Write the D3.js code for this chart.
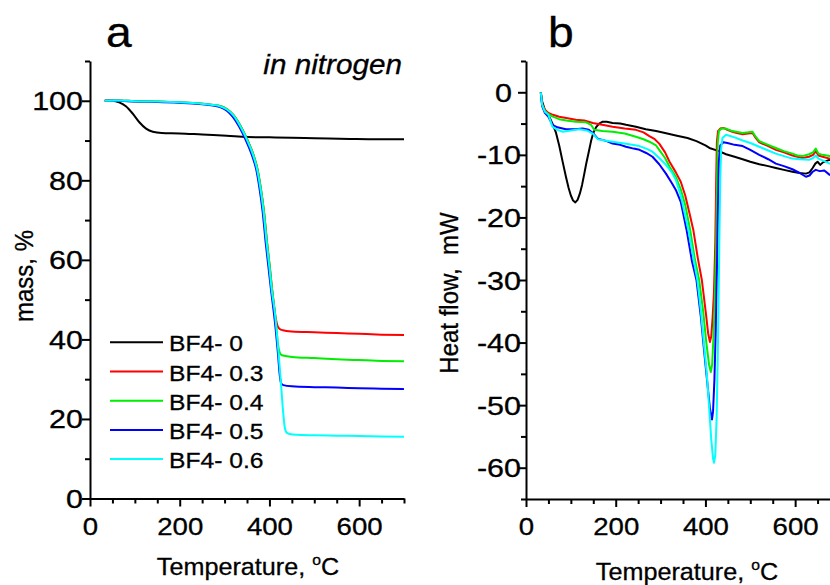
<!DOCTYPE html>
<html><head><meta charset="utf-8">
<script src="https://cdn.jsdelivr.net/npm/d3@7"></script>
<style>
body{margin:0;background:#fff}
svg{display:block}
text{font-family:"Liberation Sans",Arial,sans-serif;fill:#000;stroke:#000;stroke-width:0.3px}
</style>
</head><body>
<svg id="c" width="830" height="585"></svg>
<script>
// ---------------- DATA ----------------
const seriesNames = ["BF4- 0","BF4- 0.3","BF4- 0.4","BF4- 0.5","BF4- 0.6"];
const seriesColors = ["#000000","#ff0000","#00ee00","#0000ff","#00ffff"];

const xTicksMajor = [0,200,400,600];
const xTicksMinor = [50,100,150,250,300,350,450,500,550,650,700];
const massTicksMajor = [0,20,40,60,80,100];
const massTicksMinor = [10,30,50,70,90,110];
const heatTicksMajor = [0,-10,-20,-30,-40,-50,-60];
const heatTicksMinor = [5,-5,-15,-25,-35,-45,-55,-65];

// TGA: [temperature °C, mass %]
const tgaStartRG = [[33,100],[60,100.1],[100,99.9],[150,99.8],[200,99.6],[245,99.3],[270,99.0],[290,98.7],[305,97.9],[320,96.4],[335,93.8],[350,90.4],[365,86.2],[373,83.0],[380,78.6],[388,72.0],[395,64.0],[401,58.0],[406,52.5]];
const tgaStartB  = [[33,100],[60,100.0],[100,99.8],[150,99.7],[200,99.5],[245,99.2],[270,98.9],[290,98.4],[305,97.5],[318,96.0],[332,93.6],[347,90.2],[362,86.0],[370,83.0],[377,78.6],[385,72.0],[392,64.0],[398,58.0],[404,52.0]];
const tgaStartC  = [[33,100],[60,100.1],[100,99.9],[150,99.8],[200,99.6],[245,99.3],[270,99.0],[290,98.6],[305,97.8],[319,96.4],[334,93.8],[349,90.4],[364,86.2],[372,83.0],[379,78.6],[387,72.0],[394,64.0],[400,58.0],[405,52.5]];
const tgaBF0 = [[33,100],[50,100],[65,99.6],[80,98.6],[95,96.8],[110,94.6],[125,93.0],[140,92.2],[160,91.9],[200,91.8],[250,91.5],[305,91.2],[350,90.9],[400,90.8],[450,90.7],[500,90.6],[580,90.4],[640,90.3],[700,90.3]];
const tgaBF03 = [[410,48.8],[414,45.4],[418,43.4],[423,42.6],[430,42.3],[450,42.0],[500,41.8],[550,41.6],[600,41.4],[650,41.2],[700,41.1]];
const tgaBF04 = [[410,48.8],[415,43.8],[419,38.8],[423,36.7],[428,36.0],[450,35.6],[500,35.3],[550,35.0],[600,34.8],[650,34.6],[700,34.5]];
const tgaBF05 = [[409,47.5],[414,42.5],[419,36.5],[423,31.0],[426,29.0],[431,28.5],[450,28.2],[500,28.0],[550,27.9],[600,27.7],[650,27.6],[700,27.5]];
const tgaBF06 = [[412,46.7],[420,37.0],[425,30.0],[430,22.5],[434,18.0],[438,16.6],[445,16.2],[460,16.0],[500,15.9],[550,15.8],[600,15.7],[650,15.6],[700,15.5]];

// DSC: [temperature °C, heat flow mW]
const dscBF0 = [[33,0],[36,-1.5],[42,-2.8],[50,-3.6],[59,-5.0],[67,-6.5],[74,-8.5],[82,-11.2],[89,-13.5],[95,-15.3],[100,-16.5],[105,-17.3],[110,-17.6],[115,-17.2],[120,-16.2],[125,-14.8],[130,-13.0],[134,-11.5],[140,-9.5],[145,-7.8],[150,-6.5],[156,-5.6],[163,-5.0],[171,-4.7],[180,-4.7],[193,-4.9],[210,-5.0],[223,-5.2],[245,-5.5],[267,-5.9],[290,-6.2],[310,-6.5],[334,-6.9],[360,-7.3],[380,-7.8],[400,-8.5],[409,-8.9],[430,-9.4],[446,-9.9],[465,-10.3],[483,-10.7],[500,-11.1],[520,-11.5],[540,-11.8],[557,-12.1],[575,-12.4],[594,-12.7],[610,-12.9],[624,-13.0],[632,-12.8],[639,-12.1],[645,-11.4],[650,-11.1],[656,-11.6],[662,-11.2],[676,-10.8],[690,-11.0],[700,-10.9]];
const dscBF03 = [[33,0],[36,-1.8],[42,-2.8],[50,-3.3],[60,-3.6],[74,-3.9],[90,-4.1],[111,-4.4],[130,-4.5],[149,-4.9],[170,-5.2],[193,-5.5],[220,-5.8],[245,-6.0],[262,-6.4],[275,-7.0],[287,-7.5],[297,-8.2],[310,-9.6],[320,-11.1],[334,-12.8],[345,-14.3],[355,-16.5],[365,-19.5],[373,-22.0],[383,-26.5],[392,-30.0],[401,-35.3],[406,-38.5],[410,-39.9],[413,-39.0],[416,-36.0],[419,-32.0],[422,-24.0],[424,-14.0],[425.5,-8.0],[428,-6.2],[433,-5.8],[440,-5.7],[446,-5.9],[460,-6.3],[470,-6.5],[483,-6.7],[495,-6.6],[505,-6.5],[512,-7.3],[520,-8.0],[540,-8.6],[557,-9.2],[575,-9.6],[594,-10.1],[605,-10.3],[616,-10.5],[631,-10.3],[640,-10.0],[646,-9.4],[652,-10.1],[661,-10.3],[677,-10.6],[700,-10.8]];
const dscBF04 = [[33,0],[36,-2.0],[42,-3.0],[50,-3.5],[60,-3.9],[74,-4.3],[90,-4.5],[111,-4.7],[134,-4.8],[145,-5.2],[152,-6.0],[170,-6.2],[193,-6.3],[220,-6.6],[245,-7.1],[262,-7.5],[275,-7.9],[290,-8.5],[297,-9.2],[310,-10.5],[320,-11.9],[334,-13.5],[345,-15.5],[355,-18.0],[366,-22.0],[376,-26.5],[386,-30.0],[395,-35.0],[402,-40.0],[408,-43.5],[412,-44.7],[415,-43.5],[418,-39.0],[421,-33.0],[424,-24.0],[426,-14.0],[427.5,-8.0],[430,-6.2],[436,-5.8],[446,-5.8],[460,-6.2],[483,-6.5],[495,-6.4],[505,-6.3],[512,-7.1],[520,-7.8],[540,-8.4],[557,-8.9],[575,-9.4],[594,-9.8],[605,-10.1],[616,-10.2],[631,-9.9],[640,-9.6],[646,-9.0],[652,-9.8],[661,-10.0],[677,-10.2],[700,-10.4]];
const dscBF05 = [[33,0],[36,-2.2],[42,-3.3],[50,-3.9],[59,-5.2],[70,-5.6],[89,-5.9],[110,-5.9],[126,-5.8],[140,-6.0],[149,-6.5],[160,-7.4],[180,-7.8],[193,-8.2],[210,-8.4],[223,-8.7],[240,-9.0],[253,-9.2],[268,-9.7],[282,-10.3],[297,-11.5],[312,-13.0],[325,-14.5],[334,-15.6],[345,-17.5],[358,-22.0],[370,-27.0],[380,-30.0],[390,-36.0],[398,-42.0],[405,-47.0],[410,-50.5],[414.6,-52.3],[417,-51.0],[420,-46.0],[423,-38.0],[426,-27.0],[428,-18.0],[430,-11.0],[433,-8.5],[440,-8.0],[449,-8.1],[465,-8.4],[483,-8.6],[500,-9.2],[520,-10.0],[540,-10.7],[557,-11.4],[575,-11.8],[594,-12.3],[610,-12.9],[624,-13.5],[632,-13.3],[639,-12.7],[646,-12.4],[655,-12.6],[665,-12.5],[677,-13.2],[700,-13.4]];
const dscBF06 = [[33,0],[36,-2.0],[42,-3.1],[50,-3.6],[59,-5.5],[70,-6.0],[82,-6.3],[100,-6.1],[119,-5.9],[135,-6.1],[149,-6.6],[160,-7.5],[175,-7.7],[193,-7.9],[220,-8.2],[253,-8.6],[268,-9.0],[282,-9.5],[297,-10.5],[312,-11.6],[325,-12.8],[334,-14.0],[345,-16.5],[362,-22.0],[372,-26.0],[382,-30.0],[390,-35.0],[397,-40.5],[403,-45.0],[408,-50.0],[413,-55.5],[417,-58.5],[419,-59.2],[422,-58.0],[425,-52.0],[428,-40.0],[431,-24.0],[433,-14.0],[435,-9.0],[438,-7.3],[446,-6.8],[465,-7.2],[483,-7.7],[500,-8.1],[520,-8.7],[540,-9.3],[557,-9.8],[575,-10.2],[594,-10.6],[610,-10.7],[631,-10.8],[640,-10.5],[646,-10.1],[652,-10.6],[665,-11.0],[677,-11.4],[700,-11.6]];

// ---------------- DRAW ----------------
const svg = d3.select("#c");
const FAM = '"Liberation Sans",Arial,sans-serif';

function sText(x, y, str, size, anchor, sx, opts = {}) {
  const t = svg.append("text")
    .attr("transform", `translate(${x},${y}) scale(${sx},1)` + (opts.rotate ? ` rotate(${opts.rotate})` : ""))
    .attr("font-size", size)
    .attr("text-anchor", anchor);
  if (opts.italic) t.attr("font-style", "italic");
  return t.text(str);
}

function axisStyle(g) {
  g.selectAll("path.domain").attr("stroke", "#000").attr("stroke-width", 2);
  g.selectAll(".tick line").attr("stroke", "#000").attr("stroke-width", 2);
}

const XT = {size: 24, sx: 1.15};   // x tick labels
const YT = {size: 25, sx: 1.22};   // y tick labels

function drawAxes(x, y, yMajor, yMinor, yLabelX, zeroShift) {
  const x0 = x.range()[0], y0 = y.range()[0];
  const gx = svg.append("g").attr("transform", `translate(0,${y0})`);
  gx.call(d3.axisBottom(x).tickValues(xTicksMajor).tickSize(8).tickSizeOuter(0).tickFormat(d => String(d)));
  const gxm = svg.append("g").attr("transform", `translate(0,${y0})`);
  gxm.call(d3.axisBottom(x).tickValues(xTicksMinor).tickSize(5).tickSizeOuter(0).tickFormat(""));
  gxm.select("path.domain").remove();
  [gx, gxm].forEach(axisStyle);
  gx.selectAll(".tick text")
    .attr("font-size", XT.size).attr("font-family", FAM)
    .attr("fill", "#000").attr("y", 0).attr("dy", 0)
    .attr("transform", `translate(0,36) scale(${XT.sx},1)`);

  const gy = svg.append("g").attr("transform", `translate(${x0},0)`);
  gy.call(d3.axisLeft(y).tickValues(yMajor).tickSize(8).tickSizeOuter(0).tickFormat(d => String(d)));
  const gym = svg.append("g").attr("transform", `translate(${x0},0)`);
  gym.call(d3.axisLeft(y).tickValues(yMinor).tickSize(5).tickSizeOuter(0).tickFormat(""));
  gym.select("path.domain").remove();
  [gy, gym].forEach(axisStyle);
  gy.selectAll(".tick text")
    .attr("font-size", YT.size).attr("font-family", FAM)
    .attr("fill", "#000").attr("dy", "0.36em")
    .attr("x", d => ((d === 0 && zeroShift) ? yLabelX - zeroShift : yLabelX) / YT.sx)
    .attr("transform", `scale(${YT.sx},1)`);
}

function drawLines(x, y, sets, curve) {
  const line = d3.line().x(d => x(d[0])).y(d => y(d[1])).curve(curve);
  sets.forEach((s, i) => {
    svg.append("path").datum(s)
      .attr("fill", "none").attr("stroke", seriesColors[i])
      .attr("stroke-width", 2).attr("stroke-linejoin", "round")
      .attr("d", line);
  });
}

function tempTitle(cx, by) {
  const t = svg.append("text")
    .attr("transform", `translate(${cx},${by}) scale(1.05,1)`)
    .attr("font-size", 24).attr("text-anchor", "middle");
  t.append("tspan").text("Temperature, ");
  t.append("tspan").attr("font-size", 15).attr("dy", -10).text("o");
  t.append("tspan").attr("dy", 10).text("C");
}

// ---- Panel a ----
const xa = d3.scaleLinear().domain([0, 700]).range([90, 404]);
const ya = d3.scaleLinear().domain([0, 110]).range([498.5, 61]);
drawAxes(xa, ya, massTicksMajor, massTicksMinor, -7, 0);
drawLines(xa, ya, [
  tgaBF0,
  tgaStartRG.concat(tgaBF03),
  tgaStartRG.concat(tgaBF04),
  tgaStartB.concat(tgaBF05),
  tgaStartC.concat(tgaBF06)
], d3.curveMonotoneX);

sText(106, 46.5, "a", 42, "start", 1.1);
sText(402, 74, "in nitrogen", 27, "end", 1.1, {italic: true});
tempTitle(248, 575);
sText(33, 276, "mass, %", 24, "middle", 1.1, {rotate: -90});

// legend
const legY0 = 342.3, legDY = 29.2;
seriesNames.forEach((n, i) => {
  const yy = legY0 + i * legDY;
  svg.append("line").attr("x1", 110).attr("x2", 163).attr("y1", yy).attr("y2", yy)
    .attr("stroke", seriesColors[i]).attr("stroke-width", 2);
  sText(169, yy + 9, n, 22, "start", 1.12);
});

// ---- Panel b ----
const xb = d3.scaleLinear().domain([0, 700]).range([526, 840]);
const yb = d3.scaleLinear().domain([-65, 5]).range([499, 61]);
drawAxes(xb, yb, heatTicksMajor, heatTicksMinor, -5, 9);
drawLines(xb, yb, [dscBF0, dscBF03, dscBF04, dscBF05, dscBF06], d3.curveLinear);

sText(548, 46.5, "b", 42, "start", 1.1);
tempTitle(687, 580);
sText(458, 293, "Heat flow,\u00a0\u00a0mW", 24, "middle", 1.1, {rotate: -90});
</script>
</body></html>
